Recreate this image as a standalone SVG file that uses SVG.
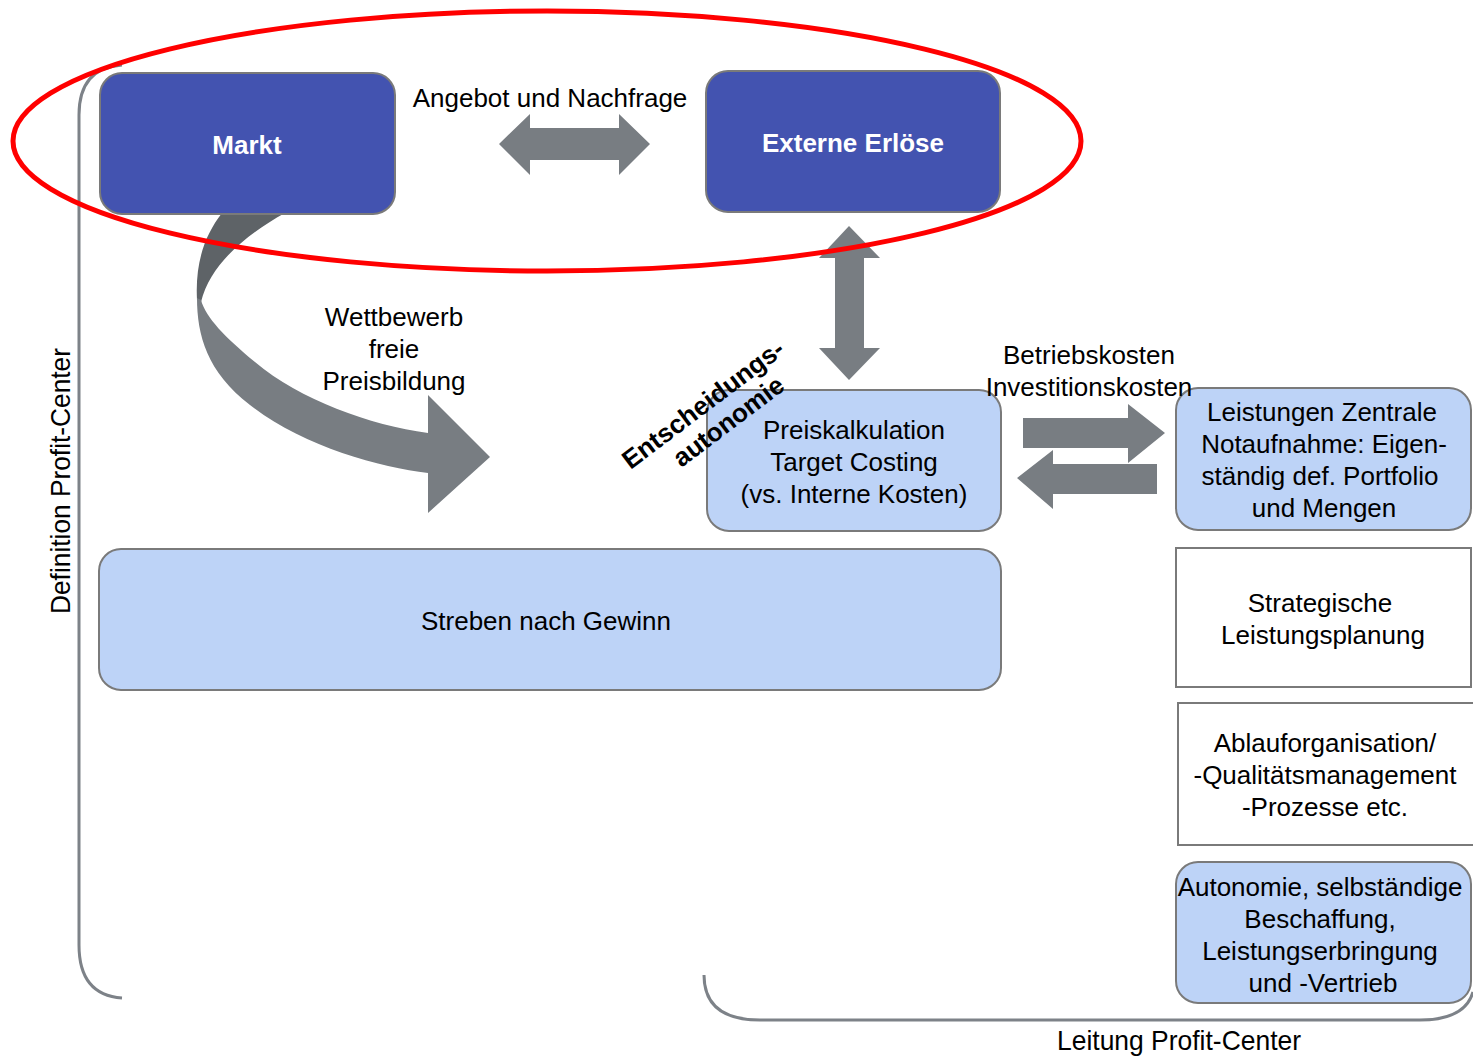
<svg xmlns="http://www.w3.org/2000/svg" width="1473" height="1056" viewBox="0 0 1473 1056">
<style>
text{font-family:"Liberation Sans",Arial,sans-serif;font-size:26px;fill:#000;text-anchor:middle}
.dark{fill:#4353B0;stroke:#7a7a7a;stroke-width:2}
.light{fill:#BDD3F7;stroke:#7a7a7a;stroke-width:2}
.plain{fill:#fff;stroke:#7a7a7a;stroke-width:2}
.wt{fill:#fff;font-weight:bold}
.arr{fill:#787D82}
.brk{fill:none;stroke:#7d8288;stroke-width:3}
.rot{font-weight:bold;font-size:26px}
</style>
<rect width="1473" height="1056" fill="#fff"/>
<g id="brackets">
<path class="brk" d="M 122 65 Q 79 68 79 115 L 79 945 Q 79 995 122 998"/>
<path class="brk" d="M 704 975 Q 704 1020 760 1020 L 1420 1020 Q 1465 1020 1473 992"/>
</g>
<g id="connectors">
<path class="arr" d="M 499 144 L 530 114 L 530 128 L 619 128 L 619 114 L 650 144 L 619 175 L 619 160 L 530 160 L 530 175 Z"/>
<path class="arr" d="M 849 226 L 880 258 L 864 258 L 864 348 L 880 348 L 849 380 L 819 348 L 835 348 L 835 258 L 819 258 Z"/>
<path class="arr" d="M 1023 418 L 1128 418 L 1128 404 L 1165 433 L 1128 463 L 1128 448 L 1023 448 Z"/>
<path class="arr" d="M 1157 464 L 1053 464 L 1053 450 L 1017 478 L 1053 509 L 1053 494 L 1157 494 Z"/>
<path fill="#5E6367" d="M 222 213 L 285 213 C 245 235 210 265 201 302 L 197 300 C 195 262 205 235 222 213 Z"/>
<path class="arr" d="M 197 298 C 197 335 207 372 250 405 C 300 445 380 468 428 473 L 428 513 L 490 457 L 428 395 L 428 433 C 370 425 300 400 255 362 C 225 337 206 318 201 300 Z"/>
</g>
<g id="markt">
<rect class="dark" x="100" y="73" width="295" height="141" rx="22"/>
<text class="wt" x="247" y="154">Markt</text>
</g>
<g id="externe-erloese">
<rect class="dark" x="706" y="71" width="294" height="141" rx="22"/>
<text class="wt" x="853" y="152">Externe Erlöse</text>
</g>
<g id="preiskalkulation">
<rect class="light" x="707" y="390" width="294" height="141" rx="22"/>
<text x="854" y="439">Preiskalkulation</text>
<text x="854" y="471">Target Costing</text>
<text x="854" y="503">(vs. Interne Kosten)</text>
</g>
<g id="streben">
<rect class="light" x="99" y="549" width="902" height="141" rx="22"/>
<text x="546" y="630">Streben nach Gewinn</text>
</g>
<g id="leistungen">
<rect class="light" x="1176" y="388" width="295" height="142" rx="22"/>
<text x="1322" y="421">Leistungen Zentrale</text>
<text x="1324" y="453">Notaufnahme: Eigen-</text>
<text x="1320" y="485">ständig def. Portfolio</text>
<text x="1324" y="517">und Mengen</text>
</g>
<g id="strategische">
<rect class="plain" x="1176" y="548" width="295" height="139"/>
<text x="1320" y="612">Strategische</text>
<text x="1323" y="644">Leistungsplanung</text>
</g>
<g id="ablauf">
<rect class="plain" x="1178" y="703" width="296" height="142"/>
<text x="1325" y="752">Ablauforganisation/</text>
<text x="1325" y="784">-Qualitätsmanagement</text>
<text x="1325" y="816">-Prozesse etc.</text>
</g>
<g id="autonomie">
<rect class="light" x="1176" y="862" width="295" height="141" rx="22"/>
<text x="1320" y="896">Autonomie, selbständige</text>
<text x="1320" y="928">Beschaffung,</text>
<text x="1320" y="960">Leistungserbringung</text>
<text x="1323" y="992">und -Vertrieb</text>
</g>
<ellipse cx="547" cy="141" rx="534" ry="130" fill="none" stroke="#FF0000" stroke-width="5"/>
<g id="labels">
<text x="550" y="107">Angebot und Nachfrage</text>
<text x="394" y="326">Wettbewerb</text>
<text x="394" y="358">freie</text>
<text x="394" y="390">Preisbildung</text>
<text x="1089" y="364">Betriebskosten</text>
<text x="1089" y="396">Investitionskosten</text>
<g transform="translate(712,416) rotate(-37)">
<text class="rot" y="-6">Entscheidungs-</text>
<text class="rot" y="23" x="10">autonomie</text>
</g>
<text transform="translate(70,481) rotate(-90)" style="font-size:28px" textLength="266" lengthAdjust="spacingAndGlyphs">Definition Profit-Center</text>
<text x="1179" y="1050" style="font-size:28px" textLength="244" lengthAdjust="spacingAndGlyphs">Leitung Profit-Center</text>
</g>
</svg>
